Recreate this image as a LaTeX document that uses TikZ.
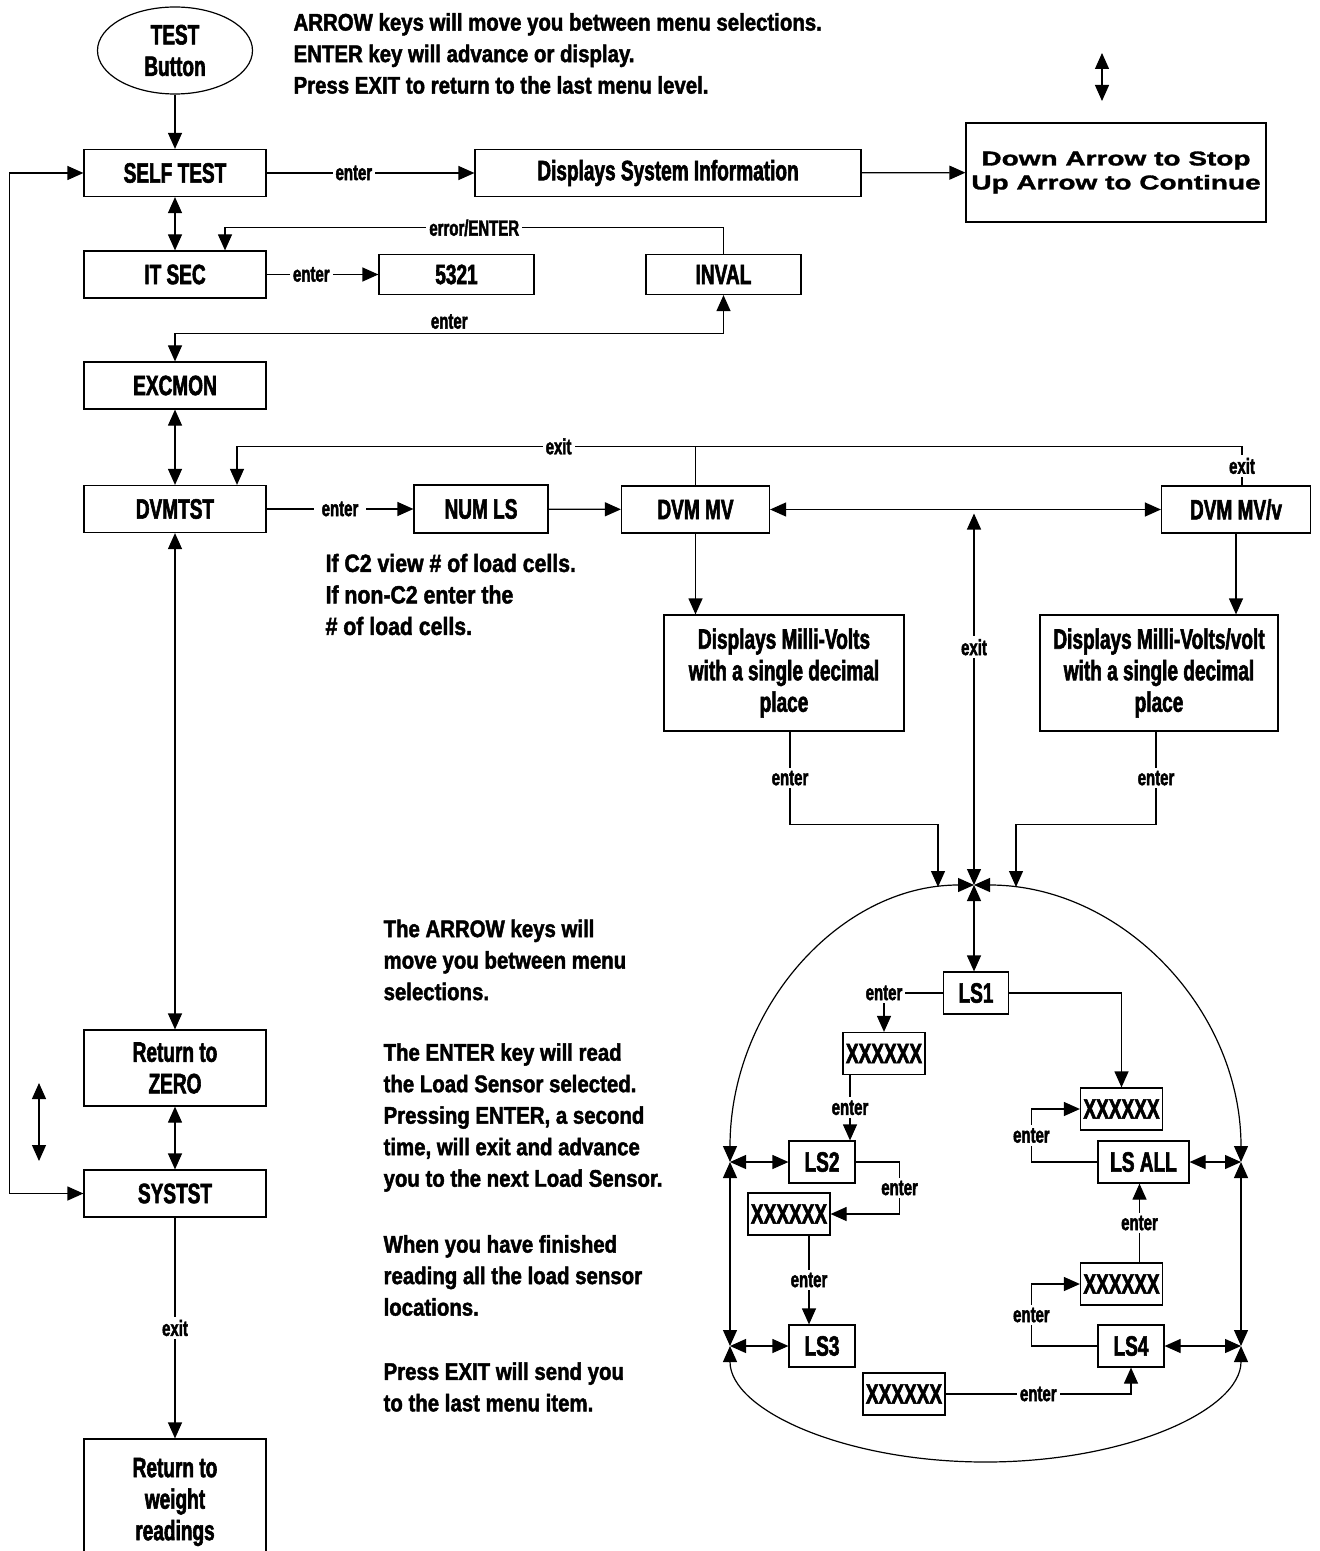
\documentclass[tikz,border=0pt]{standalone}
\usepackage{fontspec}
\usepackage{tikz}
\usetikzlibrary{arrows.meta,shapes.geometric}

\newfontfamily\condfont{Liberation Sans}[FakeStretch=0.68,FakeBold=2]
\newfontfamily\notefont{Liberation Sans}[FakeStretch=0.85,FakeBold=1.8]
\newfontfamily\widefont{Liberation Sans}[FakeStretch=1.4,FakeBold=1.5]
\newcommand{\boxtext}{\condfont\bfseries\fontsize{14}{15.75}\selectfont}
\newcommand{\tagtext}{\condfont\bfseries\fontsize{11}{13}\selectfont}
\newcommand{\notetext}{\notefont\bfseries\fontsize{12}{15.75}\selectfont}
\newcommand{\stoptext}{\widefont\bfseries\fontsize{10}{12}\selectfont}

\begin{document}
\begin{tikzpicture}[x=0.5pt, y=-0.5pt, line width=0.6pt,
        >={Triangle[length=8pt, width=7pt]},
        menu/.style={draw, inner sep=0pt, align=center, font=\boxtext},
        item/.style={menu, minimum width=91pt, minimum height=23.5pt},
        reading/.style={menu, minimum width=41pt, minimum height=21pt},
        sensor/.style={menu, minimum width=33pt, minimum height=21pt},
        tag/.style={fill=white, inner sep=1.5pt, font=\tagtext},
        note/.style={anchor=west, align=left, inner sep=0pt, font=\notetext}]
    \useasboundingbox (0,0) rectangle (1319,1551);
    \clip (0,0) rectangle (1319,1551);

    % Start and instructions
    \node[menu, ellipse, minimum width=77.5pt, minimum height=43.5pt] (test) at (175,50.5) {TEST\\Button};
    \node[note] (keys) at (293,53.5) {ARROW keys will move you between menu selections.\\ENTER key will advance or display.\\Press EXIT to return to the last menu level.};

    % Main menu
    \node[item] (selftest) at (175,173) {SELF TEST};
    \node[item] (itsec) at (175,274.5) {IT SEC};
    \node[item] (excmon) at (175,385.5) {EXCMON};
    \node[item] (dvmtst) at (175,509) {DVMTST};
    \node[item, minimum height=38pt] (zero) at (175,1068) {Return to\\ZERO};
    \node[item] (systst) at (175,1193.5) {SYSTST};
    \node[item, minimum height=63pt] (weight) at (175,1502) {Return to\\weight\\readings};
    \node[menu, minimum width=193pt, minimum height=23.5pt] (sysinfo) at (668,173) {Displays System Information};
    \node[menu, minimum width=150pt, minimum height=49.5pt, font=\stoptext] (stopbox) at (1116,172.5) {Down Arrow to Stop\\Up Arrow to Continue};
    \node[menu, minimum width=77.5pt, minimum height=20pt] (code) at (456.5,274.5) {5321};
    \node[menu, minimum width=77.5pt, minimum height=20pt] (inval) at (723.5,274.5) {INVAL};

    % DVM test
    \node[menu, minimum width=67pt, minimum height=24pt] (numls) at (481,509) {NUM LS};
    \node[menu, minimum width=74pt, minimum height=23.5pt] (dvmmv) at (695.5,509.5) {DVM MV};
    \node[menu, minimum width=74.5pt, minimum height=23.5pt] (dvmmvv) at (1236,509.5) {DVM MV/v};
    \node[menu, minimum width=120pt, minimum height=58pt] (mvdisp) at (784,673) {Displays Milli-Volts\\with a single decimal\\place};
    \node[menu, minimum width=119pt, minimum height=58pt] (mvvdisp) at (1159,673) {Displays Milli-Volts/volt\\with a single decimal\\place};
    \node[note, font=\notetext\fontsize{12.5}{15.75}\selectfont] (c2note) at (325,594.5) {If C2 view \# of load cells.\\If non-C2 enter the\\\# of load cells.};
    \coordinate (exittop) at (974,513.5);

    % Load sensors
    \coordinate (jtop) at (974,885);
    \coordinate (jl1) at (730,1162);
    \coordinate (jr1) at (1241,1162);
    \coordinate (jl2) at (730,1346);
    \coordinate (jr2) at (1241,1346);
    \node[sensor, minimum width=32.5pt] (ls1) at (976,993) {LS1};
    \node[reading] (xa) at (884,1053.5) {XXXXXX};
    \node[sensor] (ls2) at (822,1162) {LS2};
    \node[reading] (xb) at (789,1214) {XXXXXX};
    \node[sensor] (ls3) at (822,1346) {LS3};
    \node[reading] (xc) at (904,1394) {XXXXXX};
    \node[sensor] (ls4) at (1131,1346) {LS4};
    \node[reading] (xd) at (1121.5,1284) {XXXXXX};
    \node[sensor, minimum width=45.5pt] (lsall) at (1143.5,1162) {LS ALL};
    \node[reading] (xe) at (1121.5,1109) {XXXXXX};

    % Notes
    \node[note] (arrownote) at (383,960) {The ARROW keys will\\move you between menu\\selections.};
    \node[note] (enternote) at (383,1117.5) {The ENTER key will read\\the Load Sensor selected.\\Pressing ENTER, a second\\time, will exit and advance\\you to the next Load Sensor.};
    \node[note] (donenote) at (383,1275.5) {When you have finished\\reading all the load sensor\\locations.};
    \node[note] (exitnote) at (383,1387) {Press EXIT will send you\\to the last menu item.};

    % Up/down keys
    \coordinate (ua) at (1102,53);
    \coordinate (ub) at (1102,101);
    \coordinate (la) at (39,1083);
    \coordinate (lb) at (39,1161);
    \draw[<->] (ua) -- (ub);
    \draw[<->] (la) -- (lb);

    % Main menu connectors
    \draw[->] (test) -- (selftest);
    \draw[->] (selftest) -- node[tag, pos=0.42] {enter} (sysinfo);
    \draw[->] (sysinfo) -- (stopbox);
    \draw[<->] (selftest) -- (itsec);
    \draw[->] (itsec) -- node[tag, pos=0.4] {enter} (code);
    \draw[->] (inval.north) -- ++(0,-26) -| node[tag, pos=0.25] {error/ENTER} ([xshift=25pt]itsec.north);
    \draw[<->] (excmon.north) -- ++(0,-28) -| node[above, pos=0.25, font=\tagtext, inner sep=2pt] {enter} (inval.south);
    \draw[<->] (excmon) -- (dvmtst);
    \draw[<->] (dvmtst) -- (zero);
    \draw[<->] (zero) -- (systst);
    \draw[<->] (selftest.west) -- ++(-74,0) |- (systst.west);
    \draw[->] (systst) -- node[tag] {exit} (weight);

    % DVM connectors
    \draw[->] (dvmtst) -- node[tag, inner xsep=4pt] {enter} (numls);
    \draw[->] (numls) -- (dvmmv);
    \draw[<->] (dvmmv) -- (dvmmvv);
    \draw[->] ([xshift=3pt]dvmmvv.north) -- node[tag] {exit} ++(0,-39) -| node[tag, pos=0.34] {exit} ([xshift=31pt]dvmtst.north);
    \draw (dvmmv.north) -- ++(0,-39);
    \draw[->] (dvmmv.south) -- (dvmmv.south |- mvdisp.north);
    \draw[->] (dvmmvv.south) -- (dvmmvv.south |- mvvdisp.north);
    \draw[<->] (jtop) -- node[tag, pos=0.64] {exit} (exittop);
    \draw[->] ([xshift=3pt]mvdisp.south) -- node[tag] {enter} ++(0,93) -| ([xshift=-18pt, yshift=-1pt]jtop);
    \draw[->] ([xshift=-1.5pt]mvvdisp.south) -- node[tag] {enter} ++(0,93) -| ([xshift=21pt, yshift=-1pt]jtop);

    % Load sensor loop
    \draw[<->] (jtop) -- (jtop |- ls1.north);
    \draw[<->] (jtop) arc[start angle=270, end angle=180, x radius=244, y radius=277];
    \draw[<->] (jtop) arc[start angle=270, end angle=360, x radius=267, y radius=277];
    \draw[<->] (jl1) -- (jl2);
    \draw[<->] (jr1) -- (jr2);
    \draw[<->] (jl2) arc[start angle=180, end angle=0, x radius=255.5, y radius=116];
    \draw[<->] (jl1) -- (ls2.west);
    \draw[<->] (jl2) -- (ls3.west);
    \draw[<->] (jr1) -- (lsall.east);
    \draw[<->] (jr2) -- (ls4.east);
    \draw[->] (ls1.west) -- (xa.north |- ls1.west) node[tag] {enter} -- (xa.north);
    \draw[->] ([xshift=-17pt]xa.south) -- node[tag] {enter} ([xshift=-17pt]xa.south |- ls2.north);
    \draw[->] (ls2.east) -- ++(44,0) |- node[tag, pos=0.25] {enter} (xb.east);
    \draw[->] ([xshift=10pt]xb.south) -- node[tag] {enter} ([xshift=10pt]xb.south |- ls3.north);
    \draw[->] (xc.east) -| node[tag, pos=0.25] {enter} (ls4.south);
    \draw[->] (ls4.west) -- ++(-66,0) |- node[tag, pos=0.25] {enter} (xd.west);
    \draw[->] ([xshift=9pt]xd.north) -- node[tag] {enter} ([xshift=9pt]xd.north |- lsall.south);
    \draw[->] (lsall.west) -- ++(-66,0) |- node[tag, pos=0.25] {enter} (xe.west);
    \draw[->] (ls1.east) -| (xe.north);
\end{tikzpicture}
\end{document}
